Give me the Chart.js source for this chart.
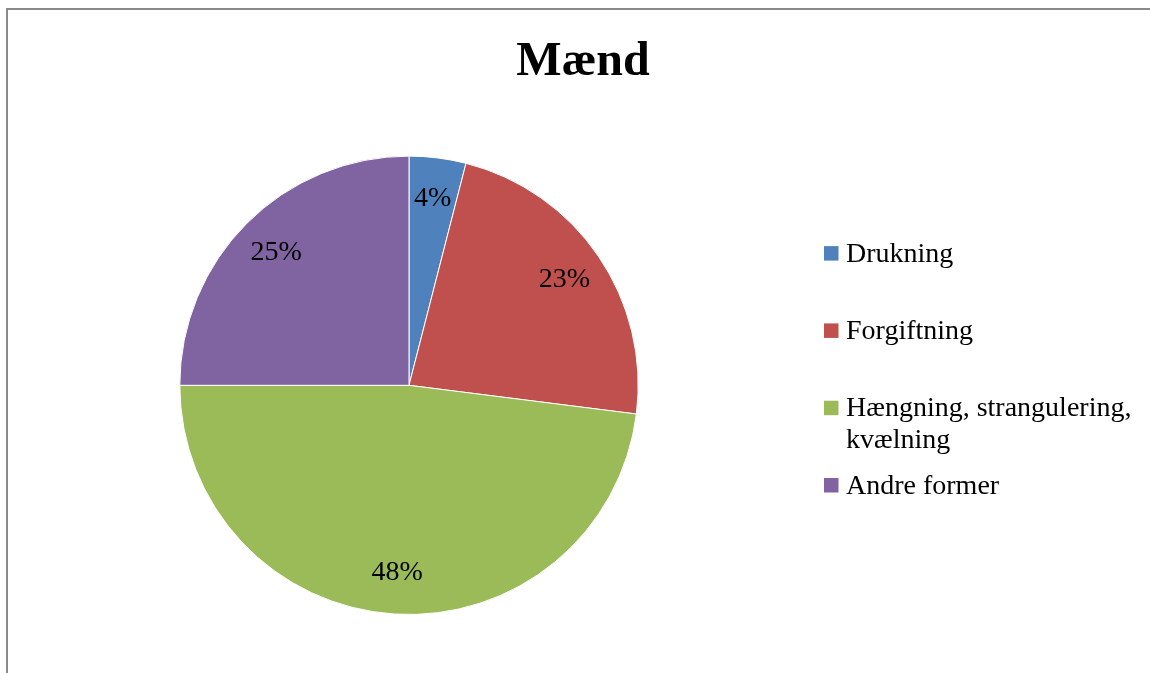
<!DOCTYPE html>
<html>
<head>
<meta charset="utf-8">
<script src="https://cdn.jsdelivr.net/npm/chart.js@4.4.1/dist/chart.umd.min.js"></script>
<style>
  html, body { margin: 0; padding: 0; background: #fff; }
  #wrap { position: relative; width: 1150px; height: 673px; overflow: hidden; }
  #frame { position: absolute; left: 6px; top: 8px; width: 1200px; height: 700px;
           border-left: 2px solid #8a8a8a; border-top: 2px solid #8a8a8a; box-sizing: border-box; }
  #c { position: absolute; left: 0; top: 0; }
</style>
</head>
<body>
<div id="wrap">
  <div id="frame"></div>
  <canvas id="c" width="1150" height="673"></canvas>
</div>
<script>
const chartTitle = 'Mænd';
const categories = ['Drukning', 'Forgiftning', ['Hængning, strangulering,', 'kvælning'], 'Andre former'];
const shares = [4, 23, 48, 25];
const sliceColors = ['#4F81BD', '#C0504D', '#9BBB59', '#8064A2'];

const FONT = "'Liberation Serif', 'Times New Roman', serif";
const LABEL_FONT = '28px ' + FONT;

// Percentage labels inside the slices
const pctLabels = {
  id: 'pctLabels',
  afterDatasetsDraw(chart) {
    const ctx = chart.ctx;
    const meta = chart.getDatasetMeta(0);
    const data = chart.data.datasets[0].data;
    const total = data.reduce((a, b) => a + b, 0);
    ctx.save();
    ctx.font = LABEL_FONT;
    ctx.fillStyle = '#000';
    ctx.textAlign = 'center';
    ctx.textBaseline = 'middle';
    meta.data.forEach((arc, i) => {
      const p = arc.getProps(['x', 'y', 'startAngle', 'endAngle', 'outerRadius'], true);
      const mid = (p.startAngle + p.endAngle) / 2;
      const r = p.outerRadius * 0.82;
      const txt = Math.round(data[i] / total * 100) + '%';
      ctx.fillText(txt, p.x + Math.cos(mid) * r, p.y + Math.sin(mid) * r);
    });
    ctx.restore();
  }
};

// Legend as a layout box on the right (Excel-style: fixed row slots)
const sideLegend = {
  id: 'sideLegend',
  start(chart) {
    const box = {
      position: 'right',
      weight: 1000,
      fullSize: false,
      options: {},
      left: 0, top: 0, right: 0, bottom: 0, width: 0, height: 0,
      isHorizontal() { return false; },
      update(maxWidth, maxHeight) { this.width = 348; this.height = maxHeight; },
      draw() {
        const ctx = chart.ctx;
        const labels = chart.data.labels;
        const colors = chart.data.datasets[0].backgroundColor;
        const top = chart.chartArea.top;
        const boxX = this.left + 22;
        const textX = boxX + 22;
        const firstBase = top + 106;
        const rowStep = 77.3;
        const lineStep = 31.5;
        ctx.save();
        ctx.font = LABEL_FONT;
        ctx.textAlign = 'left';
        ctx.textBaseline = 'alphabetic';
        labels.forEach((lab, i) => {
          const lines = Array.isArray(lab) ? lab : [lab];
          const base = firstBase + i * rowStep;
          ctx.fillStyle = colors[i];
          ctx.fillRect(boxX, base - 15.5, 14.5, 14.5);
          ctx.fillStyle = '#000';
          lines.forEach((ln, j) => ctx.fillText(ln, textX, base + j * lineStep));
        });
        ctx.restore();
      }
    };
    Chart.layouts.addBox(chart, box);
  }
};

new Chart(document.getElementById('c'), {
  type: 'pie',
  data: {
    labels: categories,
    datasets: [{
      data: shares,
      backgroundColor: sliceColors,
      borderColor: '#ffffff',
      borderWidth: 1
    }]
  },
  options: {
    responsive: false,
    animation: false,
    events: [],
    layout: { padding: { top: 0, bottom: 58, left: 16, right: 0 } },
    plugins: {
      title: {
        display: true,
        text: chartTitle,
        color: '#000',
        font: { family: FONT, size: 48, weight: 'bold' },
        padding: { top: 34, bottom: 64 }
      },
      legend: { display: false },
      tooltip: { enabled: false }
    }
  },
  plugins: [pctLabels, sideLegend]
});
</script>
</body>
</html>
